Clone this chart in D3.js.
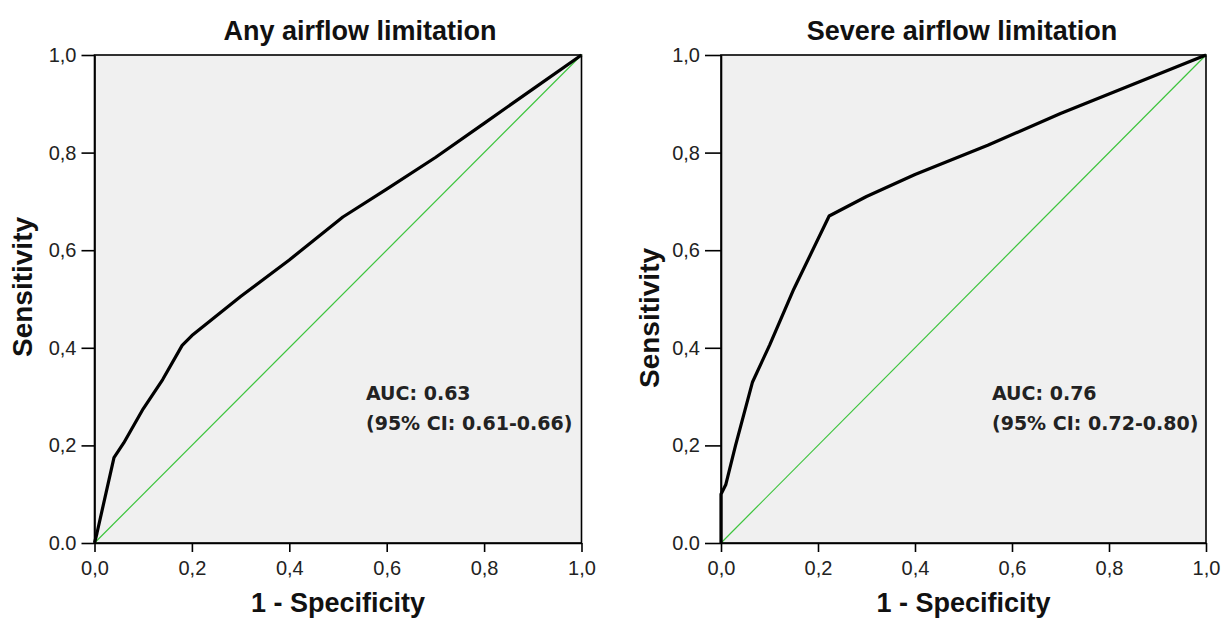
<!DOCTYPE html>
<html>
<head>
<meta charset="utf-8">
<script src="https://cdn.jsdelivr.net/npm/d3@7"></script>
<style>
  body { margin: 0; background: #fff; }
  svg { display: block; }
  .tick text { font-family: "Liberation Sans", Arial, sans-serif; font-size: 20px; fill: #222; }
  .tick line, .domain { stroke: #000; stroke-width: 1.6px; }
</style>
</head>
<body>
<svg id="svgRoot" width="1221" height="620"></svg>
<script>
// ROC points: [1 - specificity, sensitivity]
const any_roc = [
  [0, 0], [0.005, 0.02], [0.04, 0.175], [0.06, 0.205], [0.1, 0.275],
  [0.14, 0.335], [0.18, 0.405], [0.2, 0.425], [0.3, 0.505], [0.4, 0.58],
  [0.51, 0.668], [0.6, 0.725], [0.7, 0.79], [0.8, 0.86], [0.9, 0.93], [1, 1]
]
const severe_roc = [
  [0, 0], [0, 0.1], [0.01, 0.12], [0.03, 0.2], [0.065, 0.33], [0.1, 0.405],
  [0.15, 0.52], [0.223, 0.67], [0.3, 0.71], [0.4, 0.755], [0.55, 0.815],
  [0.7, 0.88], [0.85, 0.94], [1, 1]
]
const tick_values = [0, 0.2, 0.4, 0.6, 0.8, 1]
const x_tick_labels = ["0,0", "0,2", "0,4", "0,6", "0,8", "1,0"]
const y_tick_labels = ["0.0", "0,2", "0,4", "0,6", "0,8", "1,0"]
const titles = ["Any airflow limitation", "Severe airflow limitation"]
const auc_lines = [
  ["AUC: 0.63", "(95% CI: 0.61-0.66)"],
  ["AUC: 0.76", "(95% CI: 0.72-0.80)"]
]

const svg = d3.select("#svgRoot")

const panels = [
  { left: 94.5, right: 581.5, ytick: 13, title_x: 360, ylab_x: 22, ylab_y: 287, auc_x: 366, data: any_roc },
  { left: 721, right: 1206, ytick: 16, title_x: 962, ylab_x: 649, ylab_y: 318, auc_x: 992, data: severe_roc }
]
const plot_top = 55, plot_bottom = 543

panels.forEach((p, i) => {
  const g = svg.append("g")

  const scale_x = d3.scaleLinear().domain([0, 1]).range([p.left, p.right])
  const scale_y = d3.scaleLinear().domain([0, 1]).range([plot_bottom, plot_top])

  // plot background + frame
  g.append("rect")
    .attr("x", p.left).attr("y", plot_top)
    .attr("width", p.right - p.left).attr("height", plot_bottom - plot_top)
    .attr("fill", "#f0f0f0")
    .attr("stroke", "#000").attr("stroke-width", 1.6)

  // reference diagonal
  g.append("line")
    .attr("x1", scale_x(0)).attr("y1", scale_y(0))
    .attr("x2", scale_x(1)).attr("y2", scale_y(1))
    .attr("stroke", "#3cc43c").attr("stroke-width", 1.2)

  // ROC curve
  const line = d3.line().x((d) => scale_x(d[0])).y((d) => scale_y(d[1]))
  g.append("path")
    .datum(p.data)
    .attr("d", line)
    .attr("fill", "none")
    .attr("stroke", "#000")
    .attr("stroke-width", 3.2)
    .attr("stroke-linejoin", "round")

  // axes
  g.append("g")
    .attr("transform", "translate(0," + plot_bottom + ")")
    .call(d3.axisBottom(scale_x).tickValues(tick_values)
      .tickFormat((d, j) => x_tick_labels[j]).tickSize(9).tickSizeOuter(0).tickPadding(9))

  g.append("g")
    .attr("transform", "translate(" + p.left + ",0)")
    .call(d3.axisLeft(scale_y).tickValues(tick_values)
      .tickFormat((d, j) => y_tick_labels[j]).tickSize(p.ytick).tickSizeOuter(0).tickPadding(5))

  // titles
  g.append("text")
    .attr("x", p.title_x).attr("y", 40)
    .attr("text-anchor", "middle")
    .attr("font-family", "Liberation Sans, Arial, sans-serif")
    .attr("font-weight", "bold").attr("font-size", 27)
    .attr("fill", "#111")
    .text(titles[i])

  g.append("text")
    .attr("x", (p.left + p.right) / 2).attr("y", 612)
    .attr("text-anchor", "middle")
    .attr("font-family", "Liberation Sans, Arial, sans-serif")
    .attr("font-weight", "bold").attr("font-size", 27)
    .attr("fill", "#111")
    .text("1 - Specificity")

  g.append("text")
    .attr("transform", "translate(" + (p.ylab_x + 10) + "," + p.ylab_y + ") rotate(-90)")
    .attr("text-anchor", "middle")
    .attr("font-family", "Liberation Sans, Arial, sans-serif")
    .attr("font-weight", "bold").attr("font-size", 28)
    .attr("fill", "#111")
    .text("Sensitivity")

  // AUC annotation
  auc_lines[i].forEach((t, k) => {
    g.append("text")
      .attr("x", p.auc_x).attr("y", 400 + k * 30)
      .attr("font-family", "DejaVu Sans, sans-serif")
      .attr("font-weight", "bold").attr("font-size", 19)
      .attr("fill", "#222")
      .text(t)
  })
})
</script>
</body>
</html>
